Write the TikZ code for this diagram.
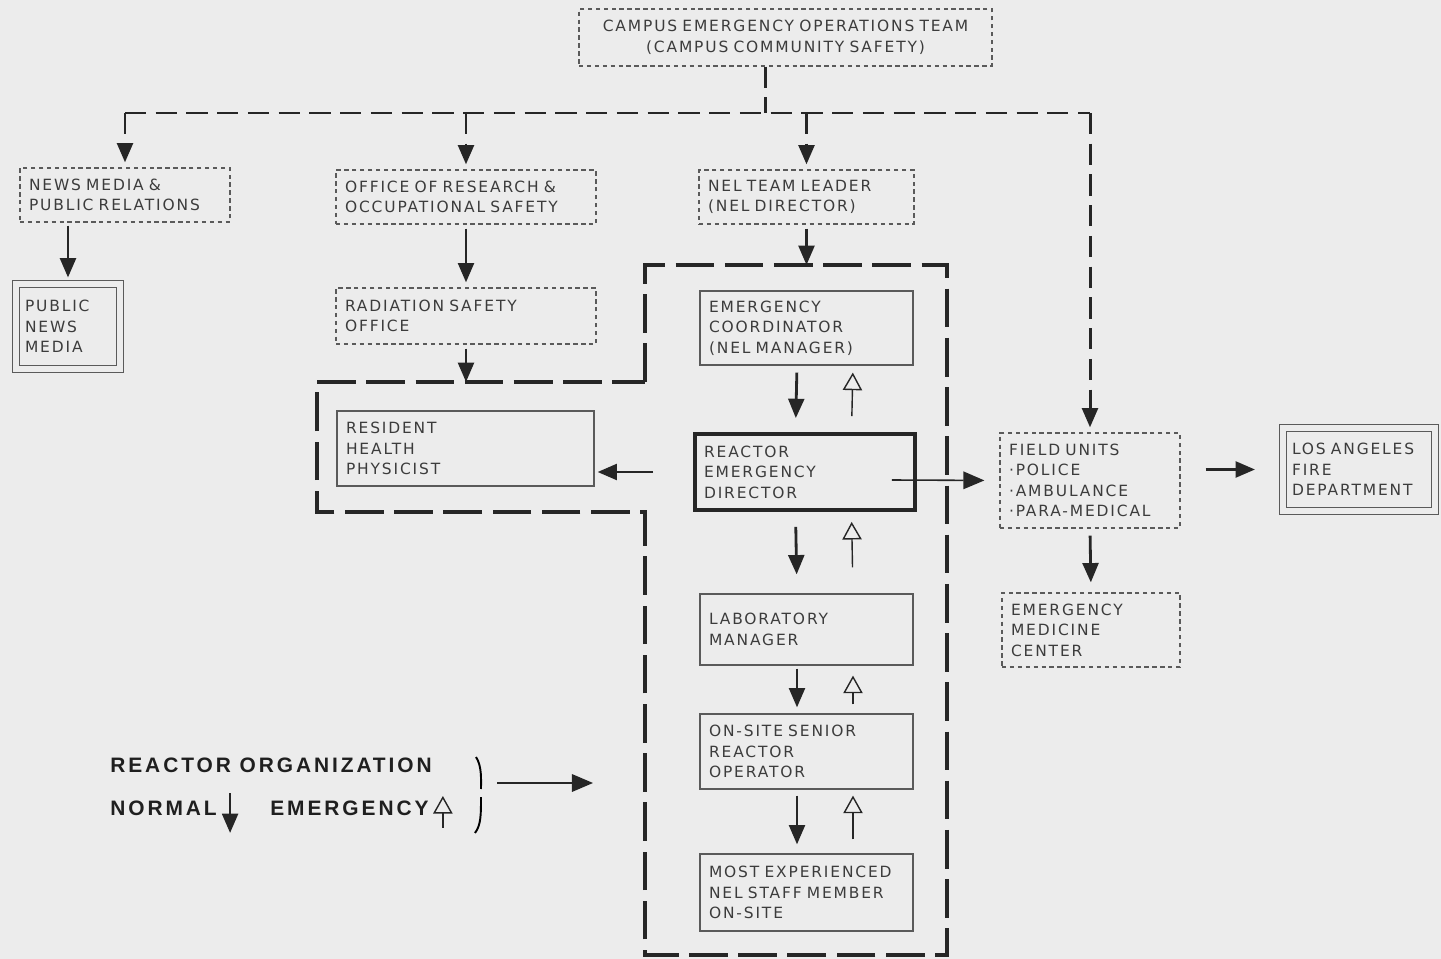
\documentclass[tikz,border=0pt]{standalone}
\usepackage{fontspec}
\usetikzlibrary{arrows.meta,calc}
\newfontfamily\boxfont{DejaVu Sans}[LetterSpace=12,WordSpace=1.8]
\newfontfamily\legfont{Liberation Sans}[LetterSpace=14]
\definecolor{paper}{RGB}{236,236,236}
\definecolor{ink}{RGB}{60,60,60}
\definecolor{rule}{RGB}{90,90,90}
\tikzset{
  unit/.style={draw=rule, line width=0.7pt, text=ink, font=\boxfont\fontsize{8.8}{11.7}\selectfont, align=left, inner xsep=0.18cm, inner ysep=0pt},
  dashunit/.style={unit, dash pattern=on 2.5pt off 2pt},
  mainunit/.style={unit, draw=black!85, line width=2.2pt},
  outside/.style={unit, double=paper, double distance=3.4pt, line width=0.6pt},
  legend/.style={font=\legfont\bfseries\fontsize{11.9}{14}\selectfont, text=black!88, inner sep=0pt},
  busline/.style={draw=black!85, line width=1.7pt, dash pattern=on 12pt off 5.5pt},
  busdrop/.style={busline, -{Triangle[length=11pt,width=9pt]}},
  normal/.style={draw=black!85, -{Triangle[length=11pt,width=9pt]}, line width=1.6pt},
  emerg/.style={draw=black!85, -{Triangle[open,length=10pt,width=11pt]}, line width=0.8pt},
  thinarrow/.style={draw=black!85, -{Triangle[length=12pt,width=10pt]}, line width=0.9pt},
  enclosure/.style={draw=black!85, line width=2.3pt, dash pattern=on 22pt off 6pt}
}
\begin{document}
\begin{tikzpicture}[x=0.02cm, y=-0.02cm]
  % Paper and page size
  \fill[paper] (0,0) rectangle (1441,959);
  \useasboundingbox (0,0) rectangle (1441,959);

  % Campus level
  \node[dashunit, text width=7.9cm, align=center, minimum height=1.14cm] (ceot) at (785.5,37.5) {CAMPUS EMERGENCY OPERATIONS TEAM\\(CAMPUS COMMUNITY SAFETY)};
  \node[dashunit, text width=3.84cm, minimum height=1.08cm] (news) at (125,195) {NEWS~MEDIA~\&\\PUBLIC~RELATIONS};
  \node[dashunit, text width=4.84cm, minimum height=1.08cm] (ors) at (466,197) {OFFICE~OF~RESEARCH~\&\\OCCUPATIONAL~SAFETY};
  \node[dashunit, text width=3.94cm, minimum height=1.08cm] (nel) at (806.5,197) {NEL~TEAM~LEADER\\(NEL~DIRECTOR)};
  \node[outside, text width=1.72cm, minimum height=1.7cm] (pnm) at (68,326.5) {PUBLIC\\NEWS\\MEDIA};
  \node[dashunit, text width=4.84cm, minimum height=1.12cm] (rso) at (466,316) {RADIATION~SAFETY\\OFFICE};

  % Reactor organization
  \node[unit, text width=3.9cm, minimum height=1.48cm] (ec) at (806.5,328) {EMERGENCY\\COORDINATOR\\(NEL~MANAGER)};
  \node[mainunit, text width=4.04cm, minimum height=1.52cm] (red) at (805,472) {REACTOR\\EMERGENCY\\DIRECTOR};
  \node[unit, text width=3.9cm, minimum height=1.42cm] (lm) at (806.5,629.5) {LABORATORY\\MANAGER};
  \node[unit, text width=3.9cm, minimum height=1.5cm] (osr) at (806.5,751.5) {ON-SITE~SENIOR\\REACTOR\\OPERATOR};
  \node[unit, text width=3.9cm, minimum height=1.54cm] (mes) at (806.5,892.5) {MOST~EXPERIENCED\\NEL~STAFF~MEMBER\\ON-SITE};
  \node[unit, text width=4.78cm, minimum height=1.5cm] (rhp) at (465.5,448.5) {RESIDENT\\HEALTH\\PHYSICIST};

  % Outside help
  \node[dashunit, text width=3.24cm, minimum height=1.9cm] (fu) at (1090,480.5) {FIELD~UNITS\\·POLICE\\·AMBULANCE\\·PARA-MEDICAL};
  \node[outside, text width=2.68cm, minimum height=1.66cm] (lafd) at (1359,469.5) {LOS~ANGELES\\FIRE\\DEPARTMENT};
  \node[dashunit, text width=3.2cm, minimum height=1.48cm] (emc) at (1091,630) {EMERGENCY\\MEDICINE\\CENTER};

  % Legend
  \node[legend, anchor=west] (legtitle) at (110,765) {REACTOR ORGANIZATION};
  \node[legend, anchor=west] (legnormal) at (110,808) {NORMAL};
  \node[legend, anchor=west] (legemerg) at (270,808) {EMERGENCY};

  % Reactor staff enclosure
  \coordinate (encTop) at (647,265);
  \coordinate (encLeft) at (645,382);
  \draw[enclosure] (encLeft) -- (645,265) -- (947,265) -- (947,955) -- (645,955) -- (645,512) -- (317,512) -- (317,382) -- cycle;

  % Dashed bus from the campus team
  \coordinate (bus) at (765,113);
  \draw[busline] (ceot.south -| bus) -- (bus);
  \draw[busline] (news.north |- bus) -- (fu.north |- bus);
  \foreach \n in {news,ors,nel,fu}
    \draw[busdrop, shorten >=0.1cm] (\n.north |- bus) -- (\n.north);

  % Normal and emergency lines of the reactor chain
  \foreach \a/\b/\p/\q/\r/\s in {ec/red/0.14/0.28/0.32/0.14, red/lm/0.3/0.38/0.52/0.2, lm/osr/0.06/0.12/0.18/0.2, osr/mes/0.12/0.18/0.28/0.12}{
    \draw[normal, shorten <=\p cm, shorten >=\q cm] ([xshift=-0.19cm]\a.south) -- ([xshift=-0.19cm]\b.north);
    \draw[emerg, shorten <=\r cm, shorten >=\s cm] ([xshift=0.93cm]\b.north) -- ([xshift=0.93cm]\a.south);
  }

  % Other connectors
  \draw[normal, shorten <=0.06cm, shorten >=0.12cm] (pnm.north |- news.south) -- (pnm.north);
  \draw[normal, shorten <=0.08cm, shorten >=0.1cm] (ors.south) -- (rso.north);
  \draw[normal, shorten <=0.08cm] (rso.south) -- (rso.south |- encLeft);
  \draw[normal, shorten <=0.08cm] (nel.south) -- (nel.south |- encTop);
  \draw[normal, shorten >=0.06cm] ([xshift=-0.8cm]red.west) -- (rhp.east |- red.west);
  \draw[thinarrow, shorten >=0.3cm] ([xshift=-0.5cm,yshift=-0.16cm]red.east) -- (fu.west);
  \draw[normal, shorten <=0.5cm, shorten >=0.55cm] (fu.east |- lafd.west) -- (lafd.west);
  \draw[normal, shorten <=0.14cm, shorten >=0.2cm] (fu.south) -- (emc.north);

  % Legend marks
  \draw[normal] ([xshift=0.26cm,yshift=0.3cm]legnormal.east) -- ++(0,-0.8cm);
  \draw[emerg] ([xshift=0.28cm,yshift=-0.4cm]legemerg.east) -- ++(0,0.64cm);
  \draw[line width=1.1pt] (476,757) .. controls (482,766) and (481,780) .. (481,789);
  \draw[line width=1.1pt] (481,797) .. controls (481,815) and (481,825) .. (475,833);
  \coordinate (legFrom) at (497,783);
  \coordinate (legTo) at (593,783);
  \draw[thinarrow] (legFrom) -- (legTo);
\end{tikzpicture}
\end{document}
